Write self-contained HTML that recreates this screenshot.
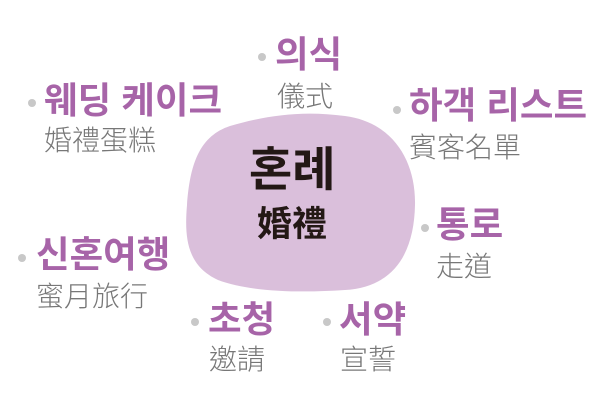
<!DOCTYPE html>
<html><head><meta charset="utf-8"><style>
body{margin:0;width:600px;height:400px;background:#fff;position:relative;overflow:hidden;font-family:"Liberation Sans","Noto Sans CJK KR",sans-serif}
.l{position:absolute;color:#a764a8;font-weight:bold;font-size:36.5px;line-height:1;white-space:nowrap;font-family:"Liberation Sans","Noto Sans CJK KR",sans-serif}
.s{position:absolute;color:#777;font-size:28px;line-height:1;white-space:nowrap;font-family:"Liberation Sans","Noto Sans CJK TC",sans-serif;font-weight:300}
.d{position:absolute;width:8px;height:8px;border-radius:50%;background:#c8c8c8}
.c{position:absolute;color:#231815;font-weight:bold;line-height:1;white-space:nowrap;font-family:"Liberation Sans","Noto Sans CJK KR",sans-serif}
</style></head><body>
<svg width="600" height="400" style="position:absolute;left:0;top:0">
<path d="M230,126 C265,116 300,110 345,116 C392,122 416,160 415,205 C414,252 395,287 345,290 C300,293 250,292 218,280 C188,266 184,240 187,205 C190,163 200,136 230,126 Z" fill="#dabfdb"/>
</svg>
<div class="c" style="left:249px;top:146px;font-size:47px">혼례</div>
<div class="c" style="left:257px;top:207px;font-size:35px;font-family:'Liberation Sans','Noto Sans CJK TC',sans-serif">婚禮</div>

<div class="d" style="left:258px;top:53px"></div>
<div class="l" style="left:275px;top:37px">의식</div>
<div class="s" style="left:277px;top:83px">儀式</div>

<div class="d" style="left:28px;top:99px"></div>
<div class="l" style="left:44px;top:83px">웨딩 케이크</div>
<div class="s" style="left:44px;top:127px">婚禮蛋糕</div>

<div class="d" style="left:393px;top:106px"></div>
<div class="l" style="left:409px;top:88px">하객 리스트</div>
<div class="s" style="left:409px;top:134px">賓客名單</div>

<div class="d" style="left:421px;top:224px"></div>
<div class="l" style="left:436px;top:207px">통로</div>
<div class="s" style="left:436px;top:253px">走道</div>

<div class="d" style="left:18px;top:254px"></div>
<div class="l" style="left:36px;top:237px">신혼여행</div>
<div class="s" style="left:36px;top:283px">蜜月旅行</div>

<div class="d" style="left:191px;top:318px"></div>
<div class="l" style="left:208px;top:302px">초청</div>
<div class="s" style="left:209px;top:346px">邀請</div>

<div class="d" style="left:323px;top:318px"></div>
<div class="l" style="left:339px;top:302px">서약</div>
<div class="s" style="left:340px;top:346px">宣誓</div>
</body></html>
